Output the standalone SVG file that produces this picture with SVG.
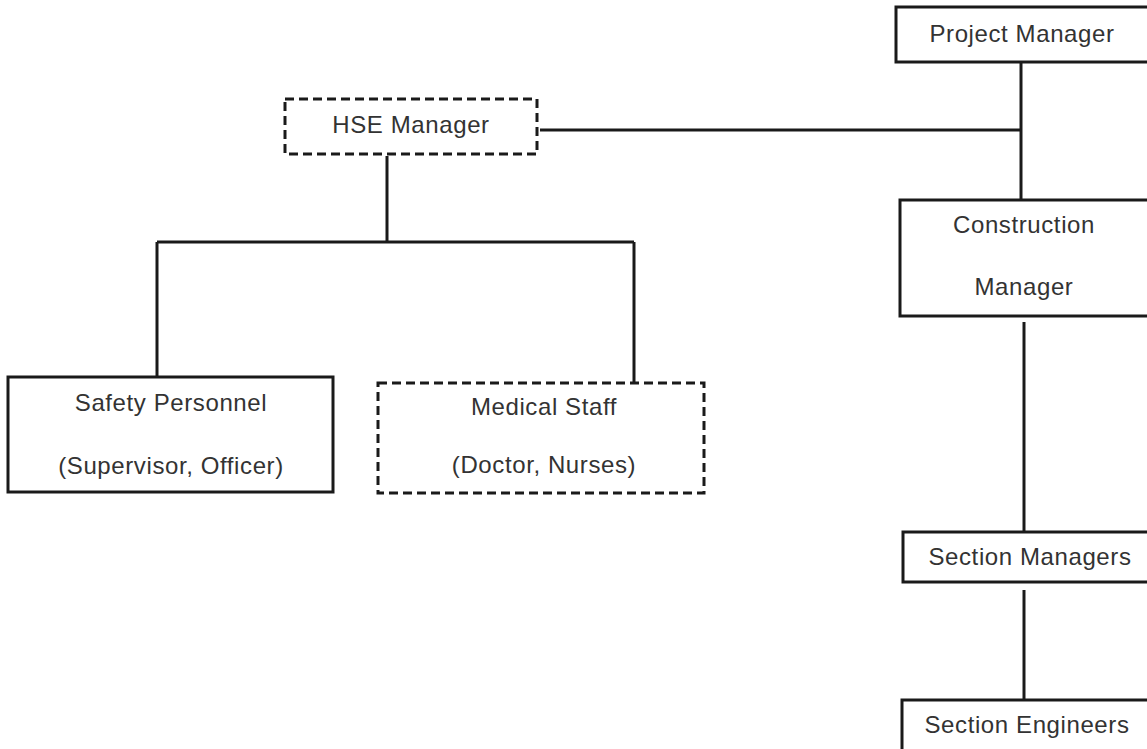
<svg xmlns="http://www.w3.org/2000/svg" width="1147" height="749" viewBox="0 0 1147 749">
<style>
.box{fill:#fff;stroke:#1a1a1a;stroke-width:3}
.dash{fill:#fff;stroke:#1a1a1a;stroke-width:3;stroke-dasharray:9 5}
.ln{stroke:#1a1a1a;stroke-width:3;fill:none}
text{font-family:"Liberation Sans",Arial,sans-serif;font-size:24px;letter-spacing:0.6px;fill:#333;text-anchor:middle}
</style>
<rect width="1147" height="749" fill="#fff"/>
<g id="connectors">
<path class="ln" d="M1021 62V200"/>
<path class="ln" d="M540 130H1021"/>
<path class="ln" d="M387 156V242M157 242H634M157 242V377M634 242V383"/>
<path class="ln" d="M1024 322V531"/>
<path class="ln" d="M1024 590V700"/>
</g>
<g id="project-manager"><rect class="box" x="896" y="7" width="260" height="55"/><text x="1022" y="42">Project Manager</text></g>
<g id="hse-manager"><rect class="dash" x="285" y="99" width="252" height="55"/><text x="411" y="133">HSE Manager</text></g>
<g id="construction-manager"><rect class="box" x="900" y="200" width="260" height="116"/><text x="1024" y="233">Construction</text><text x="1024" y="295">Manager</text></g>
<g id="safety-personnel"><rect class="box" x="8" y="377" width="325" height="115"/><text x="171" y="411">Safety Personnel</text><text x="171" y="474">(Supervisor, Officer)</text></g>
<g id="medical-staff"><rect class="dash" x="378" y="383" width="326" height="110"/><text x="544" y="415">Medical Staff</text><text x="544" y="473">(Doctor, Nurses)</text></g>
<g id="section-managers"><rect class="box" x="903" y="532" width="260" height="50"/><text x="1030" y="565">Section Managers</text></g>
<g id="section-engineers"><rect class="box" x="902" y="700" width="260" height="60"/><text x="1027" y="733">Section Engineers</text></g>
</svg>
